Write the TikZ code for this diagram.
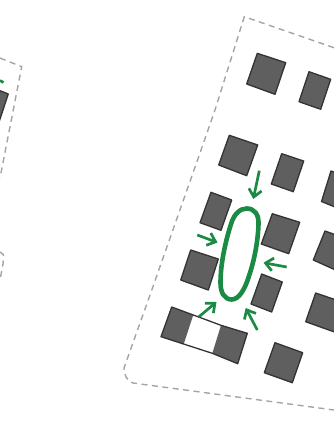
\documentclass[tikz,border=0pt]{standalone}
\usetikzlibrary{arrows.meta}

\begin{document}
\begin{tikzpicture}[x=1pt,y=-1pt]
    % Define colours
    \definecolor{borderColour}{HTML}{333333}
    \definecolor{fillColour}{HTML}{5F5F5F}
    \definecolor{plotColour}{HTML}{A4A4A4}
    \definecolor{greenColour}{HTML}{1B8A45}

    % Define styles
    \tikzset{
        block/.style={fill=fillColour, draw=borderColour, line width=1.3pt, line join=round},
        plot/.style={draw=plotColour, line width=1.4pt, dash pattern=on 6pt off 4.5pt},
        pull/.style={draw=greenColour, line width=2.7pt, -{Straight Barb[length=7.5pt,width=13pt,line width=2.7pt]}}
    }

    % Fix the page
    \useasboundingbox (0,0) rectangle (334,437);
    \clip (0,0) rectangle (334,437);

    % Draw the plot outlines
    \draw[plot] (0,58) -- (21.7,66.7) -- (0,178);
    \draw[plot] (0,252) -- (3.5,254.5) -- (3,264) -- (0,280);
    \draw[plot] (334,47.7) -- (244.3,16.7) -- (215,110) -- (200,153) -- (150,295) -- (124,368)
        .. controls (124,375) and (127,381) .. (133,383) -- (334,410);

    % Draw the buildings
    \foreach \ax/\ay/\bx/\by/\cx/\cy/\dx/\dy in {
        257.3/53.3/285.7/62.7/275/94.3/246.7/84,
        309/71.7/330.7/79.3/320.7/109.3/299/101.7,
        229.3/135.3/257.7/145/246.7/175.7/218.7/165,
        281.7/153.7/303.7/161/293.3/191.7/271.3/184,
        331/171/345/176/335/207/321.5/201.5,
        211/192.3/231.7/200/221/230.3/200/222.7,
        272.3/213.7/299.7/222.3/288.7/253.7/261.3/244,
        325/231/350/240/340/272/313.3/260,
        190.7/250/218.3/259/208.3/290/180.7/280,
        261.7/274/282.3/282/271.7/312/251/304,
        315.7/293/345/303/340/334/305.7/321.7,
        275/342.7/302.7/352.7/292.3/382.7/264.3/372.7,
        0/90.7/8.3/94/-2/125/-8/118}
        \draw[block] (\ax,\ay) -- (\bx,\by) -- (\cx,\cy) -- (\dx,\dy) -- cycle;

    % Draw the row with the gap
    \fill[fillColour] (171.7,307) -- (193.3,315) -- (183.7,344) -- (161,336.7) -- cycle;
    \fill[fillColour] (221,325.3) -- (247.3,333.3) -- (237.7,363.7) -- (212.3,353.3) -- cycle;
    \draw[block, fill=none] (193.3,315) -- (171.7,307) -- (161,336.7) -- (212.3,353.3) -- (237.7,363.7) -- (247.3,333.3) -- (221,325.3) -- cycle;

    % Draw the green loop
    \draw[draw=greenColour, line width=4.6pt] (246.7,208.5)
        .. controls (254,208.5) and (259,214) .. (258.5,224)
        .. controls (258,240) and (255,258) .. (249,276)
        .. controls (245,289) and (239,299.5) .. (231.7,299.5)
        .. controls (224,299.5) and (220.5,292) .. (220.5,283)
        .. controls (220.5,262) and (226,240) .. (231,224)
        .. controls (234,214) and (240,208.5) .. (246.7,208.5) -- cycle;

    % Draw the arrows
    \draw[pull] (259.3,170.7) -- (253.3,199);
    \draw[pull] (197.3,235) -- (217.5,242.5);
    \draw[pull] (286.7,267) -- (263.5,262.7);
    \draw[pull] (199,316.7) -- (216.5,302);
    \draw[pull] (257.3,330) -- (245.7,308);
    \draw[draw=greenColour, line width=2.7pt] (0,80.5) -- (3.5,82.5);

\end{tikzpicture}
\end{document}
